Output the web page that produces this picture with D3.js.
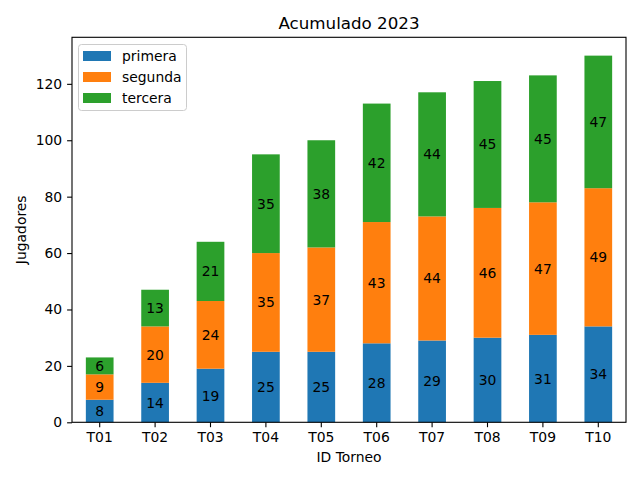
<!DOCTYPE html>
<html><head><meta charset="utf-8">
<script src="https://cdn.jsdelivr.net/npm/d3@7"></script>
<style>body{margin:0;background:#fff}svg{display:block;font-family:"DejaVu Sans",sans-serif}</style>
</head><body><svg id="c" width="640" height="480"></svg>
<script>
const categories = ["T01","T02","T03","T04","T05","T06","T07","T08","T09","T10"];
const primera = [8,14,19,25,25,28,29,30,31,34];
const segunda = [9,20,24,35,37,43,44,46,47,49];
const tercera = [6,13,21,35,38,42,44,45,45,47];
const seriesNames = ["primera","segunda","tercera"];
const colors = ["#1f77b4","#ff7f0e","#2ca02c"];
const yTicks = [0,20,40,60,80,100,120];

const svg = d3.select("#c");
const L=72, R=626, T=37.3, B=422.3;
const rows = categories.map((c,i)=>({cat:c, primera:primera[i], segunda:segunda[i], tercera:tercera[i]}));
const stack = d3.stack().keys(seriesNames)(rows);
const maxTot = d3.max(rows, d=>d.primera+d.segunda+d.tercera);
const x = d3.scaleBand().domain(categories).range([L,R]).paddingInner(0.5).paddingOuter(0.25);
const y = d3.scaleLinear().domain([0, maxTot*1.05]).range([B,T]);

stack.forEach((s,si)=>{
  const g = svg.append("g");
  g.selectAll("rect").data(s).join("rect")
    .attr("x", d=>x(d.data.cat)).attr("width", x.bandwidth())
    .attr("y", d=>y(d[1])).attr("height", d=>y(d[0])-y(d[1]))
    .attr("fill", colors[si]);
  g.selectAll("text").data(s).join("text")
    .attr("x", d=>x(d.data.cat)+x.bandwidth()/2)
    .attr("y", d=>(y(d[0])+y(d[1]))/2)
    .attr("text-anchor","middle").attr("dominant-baseline","central")
    .attr("font-size","13.9px").attr("fill","#000")
    .text(d=>d[1]-d[0]);
});

const xa = svg.append("g").attr("transform",`translate(0,${B})`)
  .call(d3.axisBottom(x).tickSizeOuter(0).tickSize(4.9).tickPadding(4.9));
const ya = svg.append("g").attr("transform",`translate(${L},0)`)
  .call(d3.axisLeft(y).tickValues(yTicks).tickSizeOuter(0).tickSize(4.9).tickPadding(4.9));
[xa,ya].forEach(a=>{a.select(".domain").remove();a.selectAll("text").attr("font-size","13.9px").attr("fill","#000").attr("font-family","DejaVu Sans");a.selectAll("line").attr("stroke","#000").attr("stroke-width",1.1);});

svg.append("rect").attr("x",L).attr("y",T).attr("width",R-L).attr("height",B-T)
  .attr("fill","none").attr("stroke","#000").attr("stroke-width",1.1);

svg.append("text").attr("x",(L+R)/2).attr("y",T-8).attr("text-anchor","middle")
  .attr("font-size","16.7px").text("Acumulado 2023");
svg.append("text").attr("x",(L+R)/2).attr("y",462).attr("text-anchor","middle")
  .attr("font-size","13.9px").text("ID Torneo");
svg.append("text").attr("transform",`translate(26,${(T+B)/2}) rotate(-90)`).attr("text-anchor","middle")
  .attr("font-size","13.9px").text("Jugadores");

const lg = svg.append("g");
lg.append("rect").attr("x",78.5).attr("y",44.5).attr("width",108).attr("height",66).attr("rx",3)
  .attr("fill","#fff").attr("fill-opacity",0.8).attr("stroke","#ccc").attr("stroke-width",1);
seriesNames.forEach((n,i)=>{
  lg.append("rect").attr("x",83).attr("y",51+i*21).attr("width",28).attr("height",10).attr("fill",colors[i]);
  lg.append("text").attr("x",122).attr("y",56+i*21).attr("dominant-baseline","central")
    .attr("font-size","13.9px").text(n);
});
</script></body></html>
